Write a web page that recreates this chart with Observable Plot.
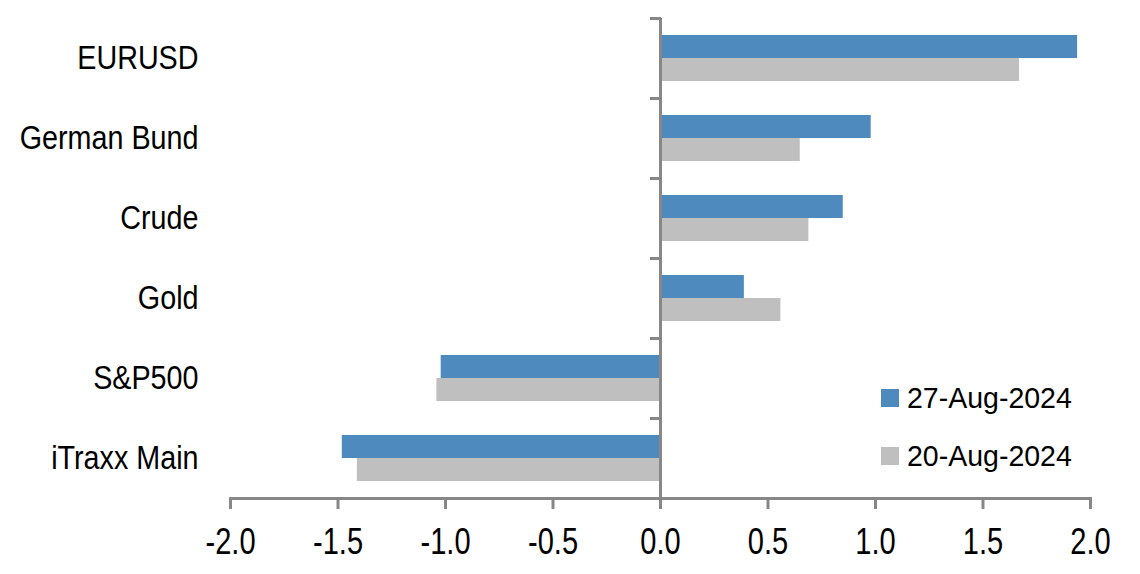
<!DOCTYPE html>
<html>
<head>
<meta charset="utf-8">
<script src="https://cdn.jsdelivr.net/npm/d3@7"></script>
<script src="https://cdn.jsdelivr.net/npm/@observablehq/plot@0.6"></script>
<style>
  html, body { margin: 0; padding: 0; background: #fff; }
  #wrap { position: relative; width: 1140px; height: 574px; font-family: "Liberation Sans Narrow", "Arial Narrow", "Liberation Sans", Arial, sans-serif; }
  #legend { position: absolute; left: 881px; top: 369px; font-size: 30px; color: #000; }
  #legend .row { display: flex; align-items: center; height: 58px; }
  #legend .sw { width: 18px; height: 18px; margin-right: 8px; flex: none; }
  #legend .lbl { display: inline-block; transform: scaleX(0.95); transform-origin: left center; white-space: nowrap; }
</style>
</head>
<body>
<div id="wrap"></div>
<script>
const categories = ["EURUSD", "German Bund", "Crude", "Gold", "S&P500", "iTraxx Main"];
const series = ["27-Aug-2024", "20-Aug-2024"];
const values27Aug = [1.94, 0.98, 0.85, 0.39, -1.02, -1.48];
const values20Aug = [1.67, 0.65, 0.69, 0.56, -1.04, -1.41];
const xTicks = [-2.0, -1.5, -1.0, -0.5, 0.0, 0.5, 1.0, 1.5, 2.0];
const colors = ["#4e8abe", "#bfbfbf"];

const W = 1140, H = 574, mL = 230, mR = 50, mT = 18, mB = 76;
const bandH = (H - mT - mB) / categories.length;

const d27 = categories.map((c, i) => ({category: c, series: series[0], value: values27Aug[i]}));
const d20 = categories.map((c, i) => ({category: c, series: series[1], value: values20Aug[i]}));

const xs = Plot.scale({x: {domain: [-2, 2], range: [mL, W - mR]}});
const zeroDx = xs.apply(0) - mL;
const axisColor = "#878787";

const plot = Plot.plot({
  width: W, height: H,
  marginLeft: mL, marginRight: mR, marginTop: mT, marginBottom: mB,
  style: {fontFamily: '"Liberation Sans Narrow", "Arial Narrow", "Liberation Sans", Arial, sans-serif', fontSize: "33px", color: "#000", background: "#fff"},
  x: {domain: [-2, 2]},
  y: {domain: categories, padding: 0},
  color: {domain: series, range: colors},
  marks: [
    Plot.barX(d27, {x: "value", y: "category", fill: "series", insetTop: bandH * 0.2125, insetBottom: bandH * 0.5}),
    Plot.barX(d20, {x: "value", y: "category", fill: "series", insetTop: bandH * 0.5, insetBottom: bandH * 0.2125}),
    Plot.axisY({anchor: "left", tickSize: 0, tickPadding: 32, label: null, fill: "#000", fontSize: 33, className: "ylab"}),
    Plot.axisY({anchor: "left", tickSize: 11, tickFormat: () => "", label: null, dx: zeroDx + 1, dy: -bandH / 2, stroke: axisColor, strokeWidth: 3}),
    Plot.ruleX([0], {stroke: axisColor, strokeWidth: 3}),
    Plot.frame({anchor: "bottom", stroke: axisColor, strokeWidth: 3}),
    Plot.axisX({ticks: xTicks, tickSize: 11, tickPadding: 18, tickFormat: d => d.toFixed(1), label: null, stroke: axisColor, strokeWidth: 3, fill: "#000", fontSize: 37, className: "xlab"})
  ]
});

const wrap = document.getElementById("wrap");
wrap.appendChild(plot);

// condense text horizontally to mimic the narrow typeface of the original
function condense(selector, factor) {
  plot.querySelectorAll(selector).forEach(t => {
    const len = t.getComputedTextLength();
    if (len > 0) {
      t.setAttribute("textLength", (len * factor).toFixed(2));
      t.setAttribute("lengthAdjust", "spacingAndGlyphs");
    }
  });
}
condense(".ylab text", 0.87);
condense(".xlab text", 0.785);

const legend = document.createElement("div");
legend.id = "legend";
series.forEach((s, i) => {
  const row = document.createElement("div");
  row.className = "row";
  const sw = document.createElement("div");
  sw.className = "sw";
  sw.style.background = colors[i];
  const t = document.createElement("span");
  t.className = "lbl";
  t.textContent = s;
  row.appendChild(sw);
  row.appendChild(t);
  legend.appendChild(row);
});
wrap.appendChild(legend);
</script>
</body>
</html>
